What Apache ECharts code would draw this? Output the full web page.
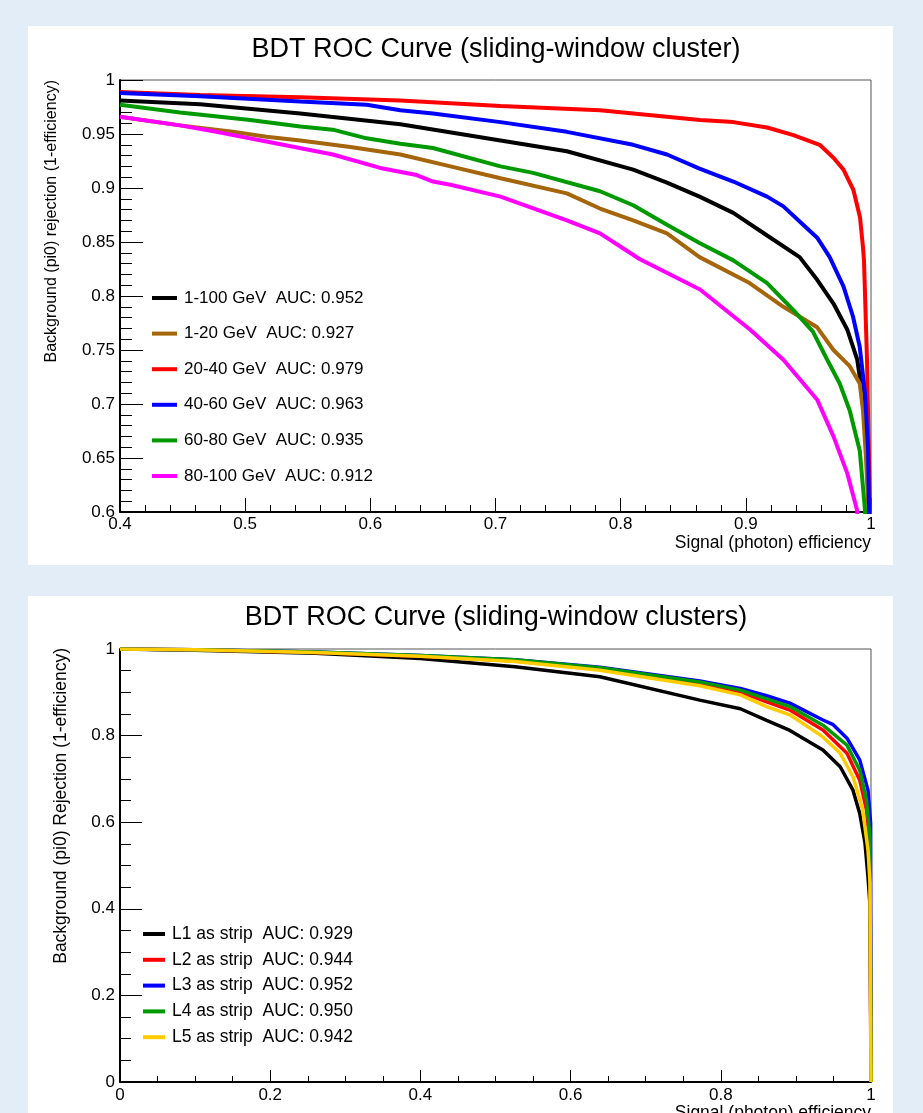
<!DOCTYPE html>
<html>
<head>
<meta charset="utf-8">
<script src="https://cdn.jsdelivr.net/npm/echarts@6/dist/echarts.min.js"></script>
<style>
  body { margin: 0; background: #e3edf7; width: 923px; height: 1113px; overflow: hidden; position: relative; }
  .pad { position: absolute; left: 28px; width: 865px; background: #fff; }
  #roc-energy { top: 26px; height: 539px; }
  #roc-strip { top: 596px; height: 517px; }
</style>
</head>
<body>
<div id="roc-energy" class="pad"></div>
<div id="roc-strip" class="pad"></div>
<script>
'use strict';

// ---- top plot: ROC per energy bin, [signal eff, bkg rejection]
var energyLabels = ['1-100 GeV  AUC: 0.952', '1-20 GeV  AUC: 0.927', '20-40 GeV  AUC: 0.979',
  '40-60 GeV  AUC: 0.963', '60-80 GeV  AUC: 0.935', '80-100 GeV  AUC: 0.912'];
var energyColors = ['#000000', '#a5650a', '#ff0000', '#0000ff', '#009a00', '#ff00ff'];

var roc1to100 = [[0.40,0.981],[0.464,0.9775],[0.544,0.969],[0.624,0.959],[0.704,0.944],[0.757,0.934],
  [0.810,0.917],[0.837,0.905],[0.863,0.892],[0.890,0.877],[0.917,0.856],[0.943,0.836],[0.957,0.815],
  [0.970,0.793],[0.981,0.769],[0.989,0.741],[0.991,0.725],[0.994,0.700],[0.998,0.640],[1.0,0.5]];
var roc1to20 = [[0.40,0.966],[0.448,0.958],[0.490,0.952],[0.517,0.9475],[0.544,0.944],[0.584,0.938],
  [0.624,0.931],[0.664,0.920],[0.704,0.909],[0.757,0.895],[0.7835,0.881],[0.810,0.870],[0.837,0.858],
  [0.863,0.836],[0.903,0.812],[0.930,0.790],[0.957,0.771],[0.970,0.750],[0.983,0.735],[0.991,0.719],
  [0.9936,0.694],[0.996,0.650],[0.998,0.600],[1.0,0.5]];
var roc20to40 = [[0.40,0.989],[0.464,0.986],[0.544,0.984],[0.624,0.981],[0.704,0.976],[0.7835,0.972],
  [0.8634,0.963],[0.890,0.961],[0.917,0.956],[0.938,0.949],[0.959,0.940],[0.970,0.928],[0.978,0.917],
  [0.986,0.898],[0.9912,0.873],[0.9936,0.845],[0.9944,0.833],[0.9968,0.741],[0.9992,0.602],[1.0,0.5]];
var roc40to60 = [[0.40,0.988],[0.464,0.985],[0.544,0.980],[0.597,0.977],[0.624,0.972],[0.650,0.969],
  [0.704,0.961],[0.757,0.952],[0.810,0.940],[0.837,0.931],[0.863,0.918],[0.890,0.906],[0.917,0.892],
  [0.930,0.883],[0.943,0.869],[0.957,0.854],[0.967,0.836],[0.978,0.809],[0.9856,0.781],[0.991,0.753],
  [0.9952,0.710],[0.9976,0.660],[1.0,0.5]];
var roc60to80 = [[0.40,0.977],[0.448,0.970],[0.504,0.963],[0.544,0.957],[0.570,0.954],[0.597,0.946],
  [0.624,0.941],[0.650,0.937],[0.704,0.920],[0.730,0.914],[0.7835,0.897],[0.810,0.884],[0.837,0.866],
  [0.863,0.849],[0.890,0.833],[0.917,0.812],[0.938,0.787],[0.9536,0.767],[0.965,0.741],[0.975,0.719],
  [0.983,0.694],[0.991,0.657],[0.9952,0.602],[0.997,0.55]];
var roc80to100 = [[0.40,0.966],[0.448,0.958],[0.477,0.952],[0.517,0.943],[0.570,0.931],[0.610,0.918],
  [0.637,0.912],[0.650,0.906],[0.664,0.903],[0.704,0.892],[0.757,0.870],[0.7835,0.858],[0.8154,0.834],
  [0.8634,0.806],[0.9033,0.769],[0.930,0.741],[0.957,0.704],[0.970,0.670],[0.981,0.636],[0.9888,0.602],
  [0.991,0.58]];

// ---- bottom plot: ROC with each layer used as strip
var stripLabels = ['L1 as strip  AUC: 0.929', 'L2 as strip  AUC: 0.944', 'L3 as strip  AUC: 0.952',
  'L4 as strip  AUC: 0.950', 'L5 as strip  AUC: 0.942'];
var stripColors = ['#000000', '#ff0000', '#0000ff', '#009a00', '#ffcc00'];

var rocL1 = [[0,1.0],[0.1,0.997],[0.26,0.990],[0.4,0.978],[0.526,0.959],[0.639,0.936],[0.772,0.882],
  [0.826,0.862],[0.861,0.835],[0.892,0.812],[0.936,0.767],[0.959,0.728],[0.976,0.674],[0.985,0.620],
  [0.992,0.552],[0.996,0.474],[0.999,0.400],[1,0]];
var rocL2 = [[0,1.0],[0.1,0.998],[0.26,0.992],[0.4,0.983],[0.526,0.972],[0.639,0.953],[0.772,0.918],
  [0.826,0.901],[0.861,0.878],[0.892,0.859],[0.936,0.813],[0.968,0.759],[0.985,0.697],[0.994,0.628],
  [0.998,0.550],[1,0]];
var rocL3 = [[0,1.0],[0.1,0.998],[0.26,0.993],[0.4,0.985],[0.526,0.975],[0.639,0.958],[0.772,0.926],
  [0.826,0.909],[0.861,0.892],[0.892,0.875],[0.936,0.836],[0.949,0.826],[0.968,0.794],[0.985,0.744],
  [0.996,0.674],[0.9995,0.598],[1,0]];
var rocL4 = [[0,1.0],[0.1,0.998],[0.26,0.993],[0.4,0.985],[0.526,0.975],[0.639,0.957],[0.772,0.924],
  [0.826,0.905],[0.892,0.867],[0.936,0.824],[0.968,0.778],[0.985,0.720],[0.994,0.651],[0.9987,0.566],[1,0]];
var rocL5 = [[0,1.0],[0.1,0.998],[0.26,0.992],[0.4,0.983],[0.526,0.971],[0.639,0.951],[0.772,0.915],
  [0.826,0.894],[0.861,0.867],[0.892,0.848],[0.936,0.797],[0.959,0.759],[0.976,0.705],[0.989,0.628],
  [0.996,0.536],[0.9987,0.460],[1,0]];

var FONT = '"Liberation Sans", Arial, Helvetica, sans-serif';

function valueAxis(o) {
  return {
    type: 'value',
    min: o.min, max: o.max, interval: o.interval,
    axisLine: { onZero: false, lineStyle: { color: '#000', width: 2 } },
    axisTick: { inside: true, length: o.tick, lineStyle: { color: '#000', width: 1 } },
    minorTick: { show: true, splitNumber: o.split, length: o.minor, lineStyle: { color: '#000', width: 1 } },
    axisLabel: { color: '#000', fontSize: 17, fontFamily: FONT, margin: o.margin },
    splitLine: { show: false },
    minorSplitLine: { show: false }
  };
}

function rocChart(el, c) {
  var chart = echarts.init(document.getElementById(el), null, { renderer: 'canvas' });
  var series = c.curves.map(function (d, i) {
    return {
      name: c.labels[i], type: 'line', data: d,
      showSymbol: false, symbol: 'none', clip: true,
      lineStyle: { width: c.lineWidth, color: c.colors[i] },
      itemStyle: { color: c.colors[i] }
    };
  });
  var option = {
    animation: false,
    title: {
      text: c.title, left: 463, top: c.titleTop, textAlign: 'center',
      textStyle: { fontSize: 27, fontWeight: 'normal', color: '#000', fontFamily: FONT }
    },
    grid: {
      left: 92, top: c.gridTop, width: 751, height: c.gridHeight,
      show: true, borderColor: '#555', borderWidth: 1, backgroundColor: 'transparent',
      containLabel: false, outerBoundsMode: 'none'
    },
    legend: {
      orient: 'vertical', left: c.legend.left, top: c.legend.top, padding: 0,
      icon: 'rect', itemWidth: c.legend.w, itemHeight: 4, itemGap: c.legend.gap,
      textStyle: { fontSize: c.legend.font, color: '#000', fontFamily: FONT, lineHeight: 20, padding: [0, 0, 0, 2] },
      data: c.labels
    },
    xAxis: valueAxis(c.x),
    yAxis: valueAxis(c.y),
    graphic: [
      {
        type: 'text', x: c.yName.x, y: c.yName.y, rotation: Math.PI / 2,
        style: { text: c.yName.text, fill: '#000', font: c.yName.size + 'px ' + FONT, align: 'right', verticalAlign: 'middle' }
      },
      {
        type: 'text', x: 843, y: c.xNameY,
        style: { text: 'Signal (photon) efficiency', fill: '#000', font: '17.5px ' + FONT, align: 'right', verticalAlign: 'middle' }
      }
    ],
    series: series
  };
  chart.setOption(option);
  return chart;
}

rocChart('roc-energy', {
  title: 'BDT ROC Curve (sliding-window cluster)', titleTop: 5,
  gridTop: 54, gridHeight: 432,
  labels: energyLabels, colors: energyColors, lineWidth: 4,
  curves: [roc1to100, roc1to20, roc20to40, roc40to60, roc60to80, roc80to100],
  legend: { left: 124, top: 262, w: 25, gap: 15.6, font: 17 },
  x: { min: 0.4, max: 1, interval: 0.1, tick: 14, minor: 7, split: 5, margin: 4 },
  y: { min: 0.6, max: 1, interval: 0.05, tick: 23, minor: 12, split: 5, margin: 5 },
  yName: { text: 'Background (pi0) rejection (1-efficiency)', x: 24, y: 54, size: 16 },
  xNameY: 517
});

rocChart('roc-strip', {
  title: 'BDT ROC Curve (sliding-window clusters)', titleTop: 3,
  gridTop: 53, gridHeight: 433,
  labels: stripLabels, colors: stripColors, lineWidth: 3.5,
  curves: [rocL1, rocL2, rocL3, rocL4, rocL5],
  legend: { left: 115, top: 328, w: 22, gap: 5.8, font: 17.5 },
  x: { min: 0, max: 1, interval: 0.2, tick: 12, minor: 6, split: 4, margin: 5 },
  y: { min: 0, max: 1, interval: 0.2, tick: 22, minor: 11, split: 4, margin: 5 },
  yName: { text: 'Background (pi0) Rejection (1-efficiency)', x: 33, y: 52, size: 17.5 },
  xNameY: 517
});
</script>
</body>
</html>
